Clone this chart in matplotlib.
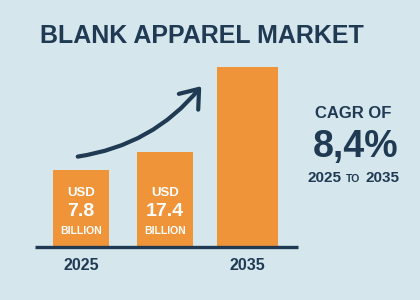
import matplotlib
matplotlib.use('Agg')
import matplotlib.pyplot as plt
from matplotlib.patches import FancyArrowPatch

# values (bar heights in pixels above the baseline)
years = ['2025', '', '2035']
heights = [77, 95, 180]
value_labels = ['7.8', '17.4', '']
cagr = '8,4%'

bg = '#d5e7ed'
orange = '#f0943a'
navy = '#1f3a52'
font = 'Liberation Sans'

fig = plt.figure(figsize=(4.2, 3.0), dpi=100, facecolor=bg)
ax = fig.add_axes([0, 0, 1, 1])
ax.set_facecolor(bg)
# pixel-like coordinates: x from left, y up from the baseline (at 247 px from top)
ax.set_xlim(0, 420)
ax.set_ylim(-53, 247)
ax.axis('off')

centers = [81, 165, 247.5]
widths = [56, 56, 61]
ax.bar(centers, heights, width=widths, color=orange, zorder=2)
ax.plot([35, 298], [0, 0], color=navy, lw=2.4, solid_capstyle='butt', zorder=3)

for c, y in zip(centers, years):
    if y:
        ax.text(c, -18, y, ha='center', va='center', color=navy,
                fontsize=11.5, fontweight='bold', family=font)

for c, v in zip(centers, value_labels):
    if v:
        ax.text(c, 54.5, 'USD', ha='center', va='center', color='white',
                fontsize=9.5, fontweight='bold', family=font)
        ax.text(c, 36, v, ha='center', va='center', color='white',
                fontsize=14, fontweight='bold', family=font)
        ax.text(c, 15.5, 'BILLION', ha='center', va='center', color='white',
                fontsize=7.5, fontweight='bold', family=font)

arrow = FancyArrowPatch((75, 90), (203, 163), connectionstyle='arc3,rad=0.2',
                        arrowstyle='->,head_length=8,head_width=6',
                        color=navy, lw=3, mutation_scale=1.5, zorder=4)
ax.add_patch(arrow)

fig.text(202 / 420, 1 - 36 / 300, 'BLANK APPAREL MARKET', ha='center', va='center',
         color=navy, fontsize=18, fontweight='bold', family=font)

fig.text(353 / 420, 1 - 114 / 300, 'CAGR OF', ha='center', va='center',
         color=navy, fontsize=12, fontweight='bold', family=font)
fig.text(356 / 420, 1 - 147 / 300, cagr, ha='center', va='center',
         color=navy, fontsize=27, fontweight='bold', family=font)
fig.text(341 / 420, 1 - 178 / 300, '2025', ha='right', va='center',
         color=navy, fontsize=11, fontweight='bold', family=font)
fig.text(353.5 / 420, 1 - 178.5 / 300, 'TO', ha='center', va='center',
         color=navy, fontsize=7.5, fontweight='bold', family=font)
fig.text(366 / 420, 1 - 178 / 300, '2035', ha='left', va='center',
         color=navy, fontsize=11, fontweight='bold', family=font)

fig.savefig('out.png', dpi=100, facecolor=bg)
